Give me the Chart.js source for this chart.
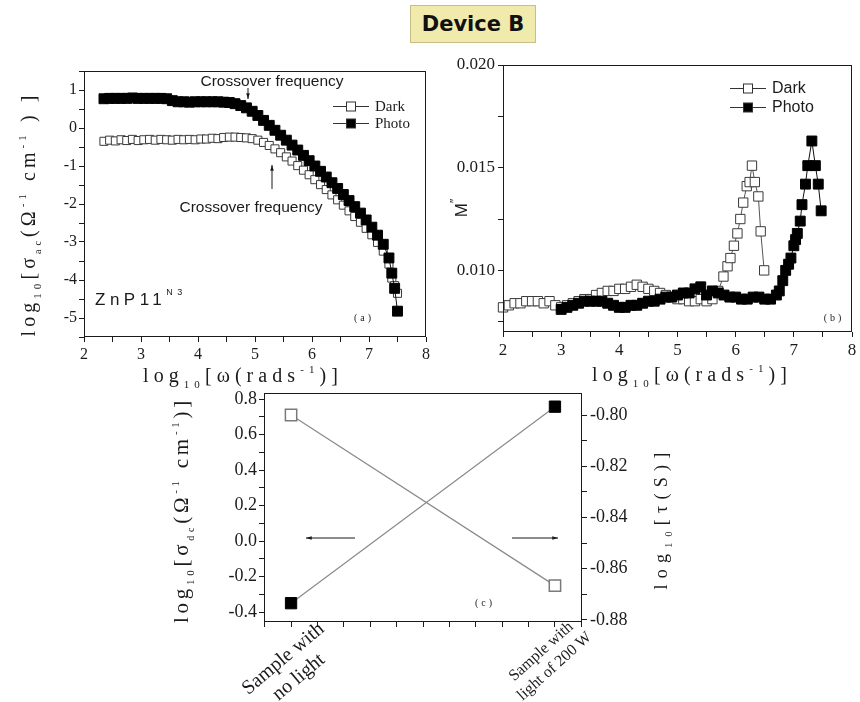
<!DOCTYPE html>
<html>
<head>
<meta charset="utf-8">
<title>Device B</title>
<script src="https://cdn.jsdelivr.net/npm/chart.js@4.4.1/dist/chart.umd.min.js"></script>
<style>
  body { margin: 0; background: #fff; }
  #fig { position: relative; width: 860px; height: 702px; overflow: hidden; }
  #fig canvas { position: absolute; left: 0; top: 0; }
  #device {
    position: absolute; left: 410px; top: 5px; width: 124px; height: 36px;
    background: #f1eaad; border: 1px solid #c9bf86;
    font: bold 21px "DejaVu Sans", Verdana, sans-serif; color: #111;
    display: flex; align-items: center; justify-content: center;
  }
</style>
</head>
<body>
<div id="fig">
  <canvas id="panelA" width="860" height="702"></canvas>
  <canvas id="panelB" width="860" height="702"></canvas>
  <canvas id="panelC" width="860" height="702"></canvas>
  <div id="device">Device B</div>
</div>
<script>
const ink = '#1b1b1b';
const serif = '"Liberation Serif", "DejaVu Serif", serif';
const sans = '"Liberation Sans", Arial, sans-serif';

// (a) log10 sigma_ac against log10 omega, both runs on one frequency grid
const aLogW = [2.35, 2.45, 2.55, 2.65, 2.75, 2.85, 2.95, 3.05, 3.15, 3.25,
  3.35, 3.45, 3.55, 3.65, 3.75, 3.85, 3.95, 4.05, 4.15, 4.25,
  4.35, 4.45, 4.55, 4.65, 4.75, 4.85, 4.95, 5.05, 5.15, 5.25,
  5.35, 5.45, 5.55, 5.65, 5.75, 5.85, 5.95, 6.05, 6.15, 6.25,
  6.35, 6.45, 6.55, 6.65, 6.75, 6.85, 6.95, 7.05, 7.15, 7.25,
  7.35, 7.4, 7.45, 7.5];
const aPhoto = [0.77, 0.78, 0.78, 0.78, 0.78, 0.79, 0.78, 0.78, 0.78, 0.78,
  0.78, 0.77, 0.72, 0.69, 0.69, 0.68, 0.69, 0.69, 0.69, 0.69,
  0.69, 0.68, 0.67, 0.64, 0.59, 0.53, 0.44, 0.33, 0.20, 0.07,
  -0.06, -0.19, -0.32, -0.45, -0.58, -0.72, -0.86, -1.00, -1.14, -1.29,
  -1.44, -1.59, -1.75, -1.91, -2.07, -2.24, -2.42, -2.61, -2.82, -3.06,
  -3.42, -3.82, -4.22, -4.82];
const aDark = [-0.35, -0.32, -0.34, -0.31, -0.33, -0.30, -0.33, -0.31, -0.30, -0.32,
  -0.30, -0.31, -0.32, -0.30, -0.31, -0.30, -0.31, -0.29, -0.29, -0.27,
  -0.28, -0.25, -0.24, -0.24, -0.25, -0.26, -0.28, -0.32, -0.38, -0.46,
  -0.55, -0.65, -0.76, -0.87, -0.99, -1.11, -1.23, -1.36, -1.49, -1.62,
  -1.76, -1.89, -2.03, -2.18, -2.33, -2.48, -2.64, -2.81, -3.01, -3.24,
  -3.58, -3.95, -4.15, -4.35];

// (b) M'' against log10 omega
const bDarkW = [2.0, 2.1, 2.2, 2.3, 2.4, 2.5, 2.6, 2.7, 2.8, 2.9,
  3.0, 3.1, 3.2, 3.3, 3.4, 3.5, 3.6, 3.7, 3.8, 3.9,
  4.0, 4.1, 4.2, 4.3, 4.4, 4.5, 4.6, 4.7, 4.8, 4.9,
  5.0, 5.1, 5.2, 5.3, 5.4, 5.5, 5.6, 5.7,
  5.79, 5.86, 5.91, 5.97, 6.03, 6.08, 6.13, 6.19, 6.24, 6.28, 6.33, 6.39, 6.43, 6.49];
const bDarkM = [0.0082, 0.0083, 0.0084, 0.0084, 0.0085, 0.0085, 0.0085, 0.0084, 0.0085, 0.0083,
  0.0082, 0.0083, 0.0084, 0.0085, 0.0086, 0.0086, 0.0088, 0.0089, 0.0090, 0.0090,
  0.0091, 0.0091, 0.0092, 0.0093, 0.0092, 0.0091, 0.0090, 0.0089, 0.0088, 0.0087,
  0.0086, 0.0086, 0.0085, 0.0085, 0.0086, 0.0085, 0.0086, 0.0090,
  0.0097, 0.0102, 0.0106, 0.0112, 0.0118, 0.0125, 0.0133, 0.0141, 0.0143, 0.0151, 0.0143, 0.0136, 0.0119, 0.0100];
const bPhotoW = [3.0, 3.1, 3.2, 3.3, 3.4, 3.5, 3.6, 3.7, 3.8, 3.9,
  4.0, 4.1, 4.2, 4.3, 4.4, 4.5, 4.6, 4.7, 4.8, 4.9,
  5.0, 5.1, 5.2, 5.3, 5.4, 5.5, 5.6, 5.7, 5.8, 5.9,
  6.0, 6.1, 6.2, 6.3, 6.4, 6.5, 6.6, 6.7,
  6.75, 6.81, 6.86, 6.91, 6.95, 7.0, 7.03, 7.06, 7.11, 7.14, 7.2, 7.24, 7.31, 7.37, 7.42, 7.47];
const bPhotoM = [0.0081, 0.0082, 0.0083, 0.0084, 0.0085, 0.0085, 0.0085, 0.0085, 0.0084, 0.0083,
  0.0082, 0.0082, 0.0083, 0.0083, 0.0084, 0.0085, 0.0085, 0.0086, 0.0087, 0.0087,
  0.0088, 0.0089, 0.0089, 0.0091, 0.0092, 0.0088, 0.0090, 0.0089, 0.0088, 0.0087,
  0.0087, 0.0086, 0.0086, 0.0087, 0.0087, 0.0086, 0.0086, 0.0088,
  0.0090, 0.0095, 0.0100, 0.0103, 0.0106, 0.0112, 0.0115, 0.0118, 0.0124, 0.0132, 0.0142, 0.0151, 0.0163, 0.0151, 0.0142, 0.0129];

// (c) dc conductivity (left axis) and relaxation time (right axis)
const cLabels = [['Sample with', 'no light'], ['Sample with', 'light of 200 W']];
const cPos = [0, 1];
const cSigmaDc = [-0.35, 0.757];
const cTau = [-0.800, -0.8666];

function pts(xs, ys) {
  return xs.map((x, i) => ({ x, y: ys[i] }));
}

const near = (v, step) => Math.abs(v / step - Math.round(v / step)) < 1e-6;
const whole = v => (near(v, 1) ? String(Math.round(v)) : '');

function base(l, t, r, b, yw, xh, rw = 0) {
  return {
    responsive: false,
    animation: false,
    events: [],
    layout: { padding: { left: l - yw, top: t, right: 860 - r - rw, bottom: 702 - b - xh } },
    plugins: { legend: { display: false }, tooltip: { enabled: false } },
  };
}

function axis(min, max, step, fmt, size, thick, horiz, pad, extra = {}) {
  return Object.assign({
    type: 'linear', min, max,
    border: { display: false },
    grid: { drawOnChartArea: false, tickLength: 5, color: ink },
    ticks: {
      stepSize: step, autoSkip: false, maxRotation: 0, padding: pad, color: ink,
      includeBounds: false, font: { family: serif, size }, callback: fmt,
    },
    afterFit: horiz
      ? s => { s.height = thick; s.paddingLeft = 0; s.paddingRight = 0; }
      : s => { s.width = thick; s.paddingTop = 0; s.paddingBottom = 0; },
  }, extra);
}

function squares(label, xs, ys, filled, r, order) {
  return {
    label, data: pts(xs, ys), order, clip: false,
    borderColor: filled ? '#111' : '#555', borderWidth: 1,
    pointStyle: 'rect', pointRadius: r, pointBorderWidth: 1,
    pointBackgroundColor: filled ? '#000' : '#fff',
    pointBorderColor: filled ? '#000' : '#3a3a3a',
  };
}

// text made of runs of different size / baseline shift (sub- and superscripts)
function rich(ctx, parts, x, y, o) {
  ctx.save();
  ctx.translate(x, y);
  if (o.rot) ctx.rotate(o.rot);
  ctx.fillStyle = ink;
  ctx.textBaseline = 'alphabetic';
  ctx.letterSpacing = '0px';
  let natural = 0, chars = 0;
  for (const [t, s] of parts) {
    ctx.font = `${s}px ${o.family}`;
    natural += ctx.measureText(t).width;
    chars += t.length;
  }
  const sp = o.len ? (o.len - natural) / chars : (o.sp || 0);
  let cx = o.align === 'left' ? 0 : -(natural + sp * chars) / 2;
  for (const [t, s, dy = 0] of parts) {
    ctx.font = `${s}px ${o.family}`;
    ctx.letterSpacing = '0px';
    const w = ctx.measureText(t).width;
    ctx.letterSpacing = sp + 'px';
    ctx.fillText(t, cx, dy);
    cx += w + sp * t.length;
  }
  ctx.restore();
}

function label(ctx, text, x, y, font) {
  ctx.save();
  ctx.fillStyle = ink;
  ctx.font = font;
  ctx.textAlign = 'center';
  ctx.textBaseline = 'middle';
  ctx.fillText(text, x, y);
  ctx.restore();
}

function arrow(ctx, x1, y1, x2, y2) {
  const a = Math.atan2(y2 - y1, x2 - x1), h = 6;
  ctx.save();
  ctx.strokeStyle = ink;
  ctx.fillStyle = ink;
  ctx.lineWidth = 1;
  ctx.beginPath(); ctx.moveTo(x1, y1); ctx.lineTo(x2, y2); ctx.stroke();
  ctx.beginPath();
  ctx.moveTo(x2, y2);
  ctx.lineTo(x2 - h * Math.cos(a - 0.3), y2 - h * Math.sin(a - 0.3));
  ctx.lineTo(x2 - h * Math.cos(a + 0.3), y2 - h * Math.sin(a + 0.3));
  ctx.closePath();
  ctx.fill();
  ctx.restore();
}

function legendRow(ctx, x, y, filled, text, font) {
  ctx.save();
  ctx.strokeStyle = '#333';
  ctx.lineWidth = 1;
  ctx.beginPath(); ctx.moveTo(x, y + 0.5); ctx.lineTo(x + 36, y + 0.5); ctx.stroke();
  ctx.fillStyle = filled ? '#000' : '#fff';
  ctx.fillRect(x + 13.5, y - 4, 9, 9);
  ctx.strokeRect(x + 13.5, y - 4, 9, 9);
  ctx.fillStyle = ink;
  ctx.font = font;
  ctx.textBaseline = 'middle';
  ctx.fillText(text, x + 42, y + 1);
  ctx.restore();
}

function catLabel(ctx, lines, cx, cy, size, deg, lh) {
  ctx.save();
  ctx.translate(cx, cy);
  ctx.rotate(deg * Math.PI / 180);
  ctx.fillStyle = ink;
  ctx.font = `${size}px ${serif}`;
  ctx.textAlign = 'center';
  ctx.textBaseline = 'middle';
  lines.forEach((t, i) => ctx.fillText(t, 0, (i - (lines.length - 1) / 2) * lh));
  ctx.restore();
}

const frame = {
  id: 'frame',
  afterDraw(chart) {
    const { ctx, chartArea: a } = chart;
    ctx.save();
    ctx.strokeStyle = ink;
    ctx.lineWidth = 1;
    ctx.strokeRect(Math.round(a.left) + 0.5, Math.round(a.top) + 0.5,
      Math.round(a.right - a.left) - 1, Math.round(a.bottom - a.top) - 1);
    ctx.restore();
  },
};

const decorate = draw => ({ id: 'decor', afterDraw: c => draw(c.ctx, c) });
const up = -Math.PI / 2;

function drawA(ctx) {
  legendRow(ctx, 333, 106, false, 'Dark', `15px ${serif}`);
  legendRow(ctx, 333, 123, true, 'Photo', `15px ${serif}`);
  label(ctx, 'Crossover frequency', 272, 82, `15.5px ${sans}`);
  arrow(ctx, 248, 88, 248, 99);
  label(ctx, 'Crossover frequency', 251, 208, `15.5px ${sans}`);
  arrow(ctx, 272, 189, 272, 165);
  rich(ctx, [['ZnP11', 17], ['N3', 9, -10]], 95, 305, { family: sans, sp: 4.5, align: 'left' });
  rich(ctx, [['(a)', 10]], 364, 321, { family: serif, sp: 3 });
  rich(ctx, [['log', 20], ['10', 11, 6], ['[σ', 20], ['ac', 10, 6], ['(Ω', 20], ['-1', 11, -9],
    [' cm', 20], ['-1', 11, -9], [' ) ]', 20]], 35, 214, { family: serif, len: 245, rot: up });
  rich(ctx, [['log', 20], ['10', 11, 6], ['[ω(rads', 20], ['-1', 11, -9], [')]', 20]],
    243, 382, { family: serif, len: 200 });
}

function drawB(ctx) {
  legendRow(ctx, 730, 88, false, 'Dark', `16px ${sans}`);
  legendRow(ctx, 730, 107, true, 'Photo', `16px ${sans}`);
  rich(ctx, [['(b)', 10]], 834, 321, { family: serif, sp: 3 });
  rich(ctx, [['log', 20], ['10', 11, 6], ['[ω(rads', 20], ['-1', 11, -9], [')]', 20]],
    692, 381, { family: serif, len: 200 });
  rich(ctx, [['M', 17], ['″', 12, -8]], 467, 208, { family: sans, rot: up });
}

function drawC(ctx, chart) {
  const xs = chart.scales.x;
  catLabel(ctx, cLabels[0], xs.getPixelForValue(cPos[0]), 668, 20, -40, 24);
  catLabel(ctx, cLabels[1], xs.getPixelForValue(cPos[1]) - 7, 659, 16, -42, 20);
  arrow(ctx, 355, 538, 306, 538);
  arrow(ctx, 512, 538, 558, 538);
  rich(ctx, [['(c)', 10]], 485, 606, { family: serif, sp: 3 });
  rich(ctx, [['log', 21], ['10', 11, 6], ['[σ', 21], ['dc', 10, 6], ['(Ω', 21], ['-1', 11, -9],
    [' cm', 21], ['-1', 11, -9], [')]', 21]], 188, 510, { family: serif, len: 226, rot: up });
  rich(ctx, [['log', 18], ['10', 10, 5], ['[τ(S)]', 18]], 667, 518, { family: serif, len: 143, rot: up });
}

new Chart(document.getElementById('panelA'), {
  type: 'line',
  data: {
    datasets: [
      squares('Photo', aLogW, aPhoto, true, 7, 0),
      squares('Dark', aLogW, aDark, false, 5.7, 1),
    ],
  },
  options: {
    ...base(84, 71, 426, 337, 84, 42),
    scales: {
      x: axis(2, 8, 0.5, whole, 16, 42, true, 3),
      y: axis(-5.5, 1.5, 0.5, whole, 16, 84, false, 2),
    },
  },
  plugins: [frame, decorate(drawA)],
});

new Chart(document.getElementById('panelB'), {
  type: 'line',
  data: {
    datasets: [
      squares('Photo', bPhotoW, bPhotoM, true, 7, 0),
      squares('Dark', bDarkW, bDarkM, false, 6.6, 1),
    ],
  },
  options: {
    ...base(503, 65, 859, 332, 60, 42),
    scales: {
      x: axis(2, 8, 0.5, whole, 17, 42, true, 3),
      y: axis(0.007, 0.020, 0.0025, v => (near(v, 0.005) ? v.toFixed(3) : ''), 17, 60, false, 3),
    },
  },
  plugins: [frame, decorate(drawB)],
});

new Chart(document.getElementById('panelC'), {
  type: 'line',
  data: {
    datasets: [
      {
        label: 'sigma_dc', data: pts(cPos, cSigmaDc), yAxisID: 'y', clip: false,
        borderColor: '#8a8a8a', borderWidth: 1.2,
        pointStyle: 'rect', pointRadius: 8, pointBorderWidth: 1,
        pointBackgroundColor: '#000', pointBorderColor: '#000',
      },
      {
        label: 'tau', data: pts(cPos, cTau), yAxisID: 'y1', clip: false,
        borderColor: '#8a8a8a', borderWidth: 1.2,
        pointStyle: 'rect', pointRadius: 8, pointBorderWidth: 1.5,
        pointBackgroundColor: '#fff', pointBorderColor: '#7a7a7a',
      },
    ],
  },
  options: {
    ...base(264, 393, 582, 622, 70, 12, 70),
    scales: {
      x: axis(-0.1025, 1.1025, 0.1, () => '', 16, 12, true, 0, {}),
      y: axis(-0.456, 0.834, 0.1, v => (near(v, 0.2) ? v.toFixed(1) : ''), 18, 70, false, 2),
      y1: axis(-0.8808, -0.7914, 0.01, v => (near(v, 0.02) ? v.toFixed(2) : ''), 18, 70, false, 3,
        { position: 'right' }),
    },
  },
  plugins: [frame, decorate(drawC)],
});
</script>
</body>
</html>
